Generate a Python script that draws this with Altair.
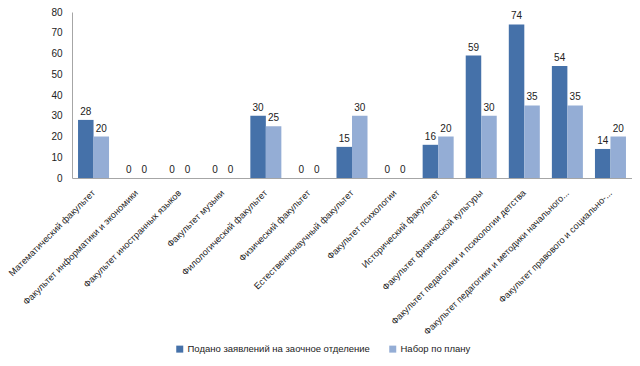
import altair as alt
import pandas as pd

categories = [
    "Математический факультет",
    "Факультет информатики и экономики",
    "Факультет иностранных языков",
    "Факультет музыки",
    "Филологический факультет",
    "Физический факультет",
    "Естественнонаучный факультет",
    "Факультет психологии",
    "Исторический факультет",
    "Факультет физической культуры",
    "Факультет педагогики и психологии детства",
    "Факультет педагогики и методики начального...",
    "Факультет правового и социально-...",
]
series = ["Подано заявлений на заочное отделение", "Набор по плану"]
applied = [28, 0, 0, 0, 30, 0, 15, 0, 16, 59, 74, 54, 14]
planned = [20, 0, 0, 0, 25, 0, 30, 0, 20, 30, 35, 35, 20]
colors = ["#4571A9", "#94ADD5"]

rows = []
for c, a, p in zip(categories, applied, planned):
    rows.append({"cat": c, "series": series[0], "value": a})
    rows.append({"cat": c, "series": series[1], "value": p})
df = pd.DataFrame(rows)

FONT = "Liberation Sans"

x = alt.X(
    "cat:N",
    sort=categories,
    title=None,
    scale=alt.Scale(paddingInner=0.28, paddingOuter=0.14),
    axis=alt.Axis(
        labelAngle=-45,
        labelAlign="right",
        labelBaseline="middle",
        labelLimit=0,
        labelOverlap=False,
        ticks=False,
        labelPadding=13,
        labelFont=FONT,
        labelFontSize=9.2,
        labelColor="#222222",
        domainColor="#A6A6A6",
    ),
)
y = alt.Y(
    "value:Q",
    title=None,
    scale=alt.Scale(domain=[0, 80]),
    axis=alt.Axis(
        values=[0, 10, 20, 30, 40, 50, 60, 70, 80],
        grid=False,
        ticks=False,
        labelPadding=10,
        labelFont=FONT,
        labelFontSize=10,
        labelColor="#222222",
        domainColor="#A6A6A6",
    ),
)
xo = alt.XOffset("series:N", sort=series, scale=alt.Scale(paddingInner=0))

bars = alt.Chart(df).mark_bar().encode(
    x=x,
    y=y,
    xOffset=xo,
    color=alt.Color(
        "series:N",
        sort=series,
        scale=alt.Scale(domain=series, range=colors),
        legend=alt.Legend(
            title=None,
            orient="none",
            direction="horizontal",
            legendX=103,
            legendY=332,
            symbolType="square",
            symbolSize=49,
            symbolStrokeWidth=0,
            labelFont=FONT,
            labelFontSize=9.5,
            labelColor="#222222",
            labelLimit=0,
            columnPadding=18,
            labelOffset=3,
        ),
    ),
)

labels = alt.Chart(df).mark_text(
    baseline="bottom", dy=-3, font=FONT, fontSize=10, color="#222222"
).encode(x=x, y=y, xOffset=xo, text="value:Q")

chart = (
    alt.layer(bars, labels)
    .properties(
        width=560,
        height=166,
        autosize=alt.AutoSizeParams(type="none"),
        padding={"left": 64, "top": 4, "right": 0, "bottom": 180},
    )
    .configure_view(stroke=None)
)

chart.save("out.html", embed_options={"renderer": "svg", "actions": False})
